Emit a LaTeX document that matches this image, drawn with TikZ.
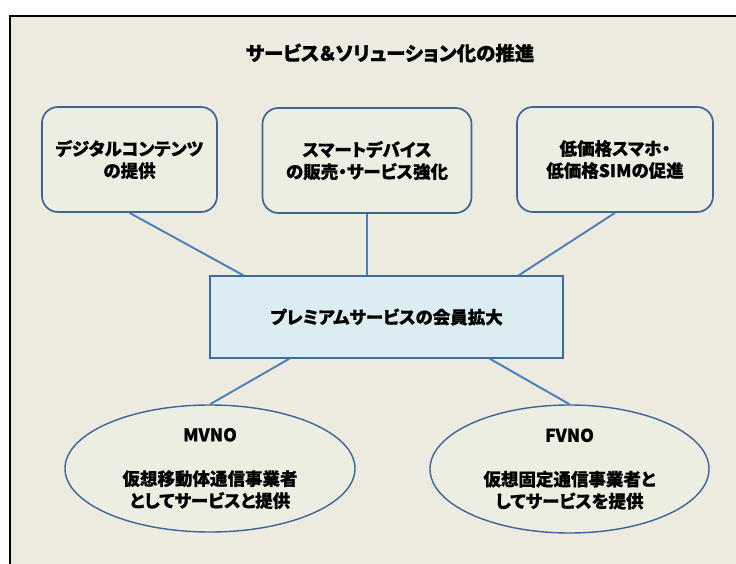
\documentclass[tikz,border=0pt]{standalone}
\usepackage{fontspec}
\setmainfont{Noto Sans CJK JP}[RawFeature=+palt, BoldFeatures={FakeBold=0.6}]
\usetikzlibrary{shapes.geometric}
\definecolor{bgc}{HTML}{EDEADF}
\definecolor{boxfill}{HTML}{EBEEE0}
\definecolor{boxline}{HTML}{3D6596}
\definecolor{rectfill}{HTML}{DBEDF3}
\definecolor{rectline}{HTML}{4A7EBB}
\definecolor{conn}{HTML}{4A7EBB}
\tikzset{
  txt/.style={font=\bfseries\fontsize{17.5}{22}\selectfont, align=center, text=black},
  topbox/.style={txt, draw=boxline, fill=boxfill, line width=1.7pt, rounded corners=16pt, inner sep=0pt},
  midbox/.style={txt, draw=rectline!85!black, fill=rectfill, line width=1.4pt, inner sep=0pt},
  oval/.style={txt, ellipse, draw=boxline, fill=boxfill, line width=1.4pt, inner sep=0pt},
  link/.style={draw=conn, line width=1.9pt}
}
\begin{document}
\begin{tikzpicture}[x=1pt,y=-1pt]
\useasboundingbox (0,0) rectangle (736,564);
\fill[white] (0,0) rectangle (736,564);
\draw[fill=bgc, line width=2pt] (10,16) rectangle (745,575);
\node[font=\bfseries\fontsize{19.5}{22}\selectfont] (title) at (390,53) {サービス＆ソリューション化の推進};
\node[topbox, minimum width=175pt, minimum height=105pt] (b1) at (129.5,159.5) {デジタルコンテンツ\\の提供};
\node[topbox, minimum width=209pt, minimum height=105pt] (b2) at (367,160.5) {スマートデバイス\\の販売・サービス強化};
\node[topbox, minimum width=196pt, minimum height=105pt] (b3) at (615,159.5) {低価格スマホ・\\低価格SIMの促進};
\node[midbox, minimum width=353pt, minimum height=82pt] (mid) at (386.5,317) {プレミアムサービスの会員拡大};
\node[oval, minimum width=290pt, minimum height=127pt] (e1) at (210,468.5) {MVNO\\[22pt]仮想移動体通信事業者\\としてサービスと提供};
\node[oval, minimum width=279pt, minimum height=128pt] (e2) at (569.5,469) {FVNO\\[22pt]仮想固定通信事業者と\\してサービスを提供};
\draw[link] (b1.south) -- ([xshift=34pt]mid.north west);
\draw[link] (b2.south) -- (b2.south |- mid.north);
\draw[link] (b3.south) -- ([xshift=-45pt]mid.north east);
\draw[link] ([xshift=80pt]mid.south west) -- (e1.north);
\draw[link] ([xshift=-74pt]mid.south east) -- (e2.north);
\end{tikzpicture}
\end{document}
